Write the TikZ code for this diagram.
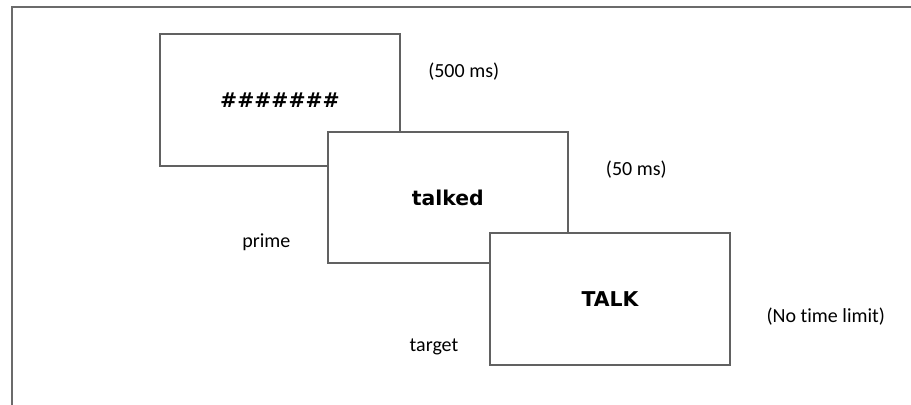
\documentclass[tikz,border=0pt]{standalone}
\usepackage{fontspec}
\setmainfont[Ligatures=NoCommon]{Carlito}
\newfontfamily\boldsans{DejaVu Sans}

\begin{document}
\begin{tikzpicture}[
  x=0.5pt, y=-0.5pt,
  every node/.style={font=\fontsize{10}{12}\selectfont, inner sep=0pt},
  screen/.style={draw=black!62, line width=1pt, fill=white,
    minimum width=120pt, minimum height=65.8pt,
    font=\boldsans\bfseries\fontsize{10.2}{12}\selectfont}
]
\useasboundingbox (0,0) rectangle (911,405);
% outer frame:
\draw [black!58, line width=1pt] (11.5,410) -- (11.5,7.5) -- (915,7.5);
% screens, later ones on top:
\node [screen] (mask)   at (280,99.8)   {\#\#\#\#\#\#\#};
\node [screen] (prime)  at (447.8,197.5) {talked};
\node [screen] (target) at (610,298.8)  {TALK};
% durations and labels:
\node (maskdur)   at (463.7,71.7) {(500 ms)};
\node (primedur)  at (636.3,170)  {(50 ms)};
\node (targetdur) at (825.8,317)  {(No time limit)};
\node (primelbl)  at (266.3,242)  {prime};
\node (targetlbl) at (434,347)    {target};
\end{tikzpicture}
\end{document}
